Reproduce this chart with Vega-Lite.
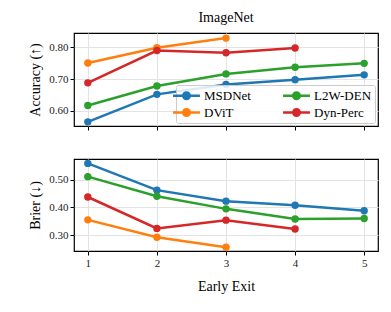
{
  "$schema": "https://vega.github.io/schema/vega-lite/v6.json",
  "padding": {"left": 28, "top": 10, "right": 5, "bottom": 5},
  "datasets": {
    "d": [
      {"exit": 1, "model": "MSDNet", "metric": "acc", "value": 0.566},
      {"exit": 2, "model": "MSDNet", "metric": "acc", "value": 0.652},
      {"exit": 3, "model": "MSDNet", "metric": "acc", "value": 0.683},
      {"exit": 4, "model": "MSDNet", "metric": "acc", "value": 0.698},
      {"exit": 5, "model": "MSDNet", "metric": "acc", "value": 0.713},
      {"exit": 1, "model": "L2W-DEN", "metric": "acc", "value": 0.617},
      {"exit": 2, "model": "L2W-DEN", "metric": "acc", "value": 0.678},
      {"exit": 3, "model": "L2W-DEN", "metric": "acc", "value": 0.716},
      {"exit": 4, "model": "L2W-DEN", "metric": "acc", "value": 0.737},
      {"exit": 5, "model": "L2W-DEN", "metric": "acc", "value": 0.749},
      {"exit": 1, "model": "DViT", "metric": "acc", "value": 0.750},
      {"exit": 2, "model": "DViT", "metric": "acc", "value": 0.798},
      {"exit": 3, "model": "DViT", "metric": "acc", "value": 0.828},
      {"exit": 1, "model": "Dyn-Perc", "metric": "acc", "value": 0.688},
      {"exit": 2, "model": "Dyn-Perc", "metric": "acc", "value": 0.789},
      {"exit": 3, "model": "Dyn-Perc", "metric": "acc", "value": 0.782},
      {"exit": 4, "model": "Dyn-Perc", "metric": "acc", "value": 0.797},
      {"exit": 1, "model": "MSDNet", "metric": "brier", "value": 0.560},
      {"exit": 2, "model": "MSDNet", "metric": "brier", "value": 0.463},
      {"exit": 3, "model": "MSDNet", "metric": "brier", "value": 0.423},
      {"exit": 4, "model": "MSDNet", "metric": "brier", "value": 0.408},
      {"exit": 5, "model": "MSDNet", "metric": "brier", "value": 0.388},
      {"exit": 1, "model": "L2W-DEN", "metric": "brier", "value": 0.512},
      {"exit": 2, "model": "L2W-DEN", "metric": "brier", "value": 0.441},
      {"exit": 3, "model": "L2W-DEN", "metric": "brier", "value": 0.395},
      {"exit": 4, "model": "L2W-DEN", "metric": "brier", "value": 0.358},
      {"exit": 5, "model": "L2W-DEN", "metric": "brier", "value": 0.360},
      {"exit": 1, "model": "DViT", "metric": "brier", "value": 0.355},
      {"exit": 2, "model": "DViT", "metric": "brier", "value": 0.292},
      {"exit": 3, "model": "DViT", "metric": "brier", "value": 0.256},
      {"exit": 1, "model": "Dyn-Perc", "metric": "brier", "value": 0.438},
      {"exit": 2, "model": "Dyn-Perc", "metric": "brier", "value": 0.324},
      {"exit": 3, "model": "Dyn-Perc", "metric": "brier", "value": 0.354},
      {"exit": 4, "model": "Dyn-Perc", "metric": "brier", "value": 0.322}
    ]
  },
  "config": {
    "font": "Liberation Serif",
    "view": {"stroke": "#000000", "strokeWidth": 1.2},
    "axis": {
      "domain": false,
      "tickColor": "#000000",
      "tickSize": 4,
      "labelFontSize": 11,
      "labelColor": "#222222",
      "titleFontSize": 14,
      "titleFontWeight": "normal",
      "titleColor": "#000000",
      "gridColor": "#e3e3e3",
      "gridWidth": 1
    },
    "title": {"fontSize": 14, "fontWeight": "normal"},
    "legend": {"labelFontSize": 13}
  },
  "spacing": 25,
  "resolve": {"legend": {"color": "independent"}},
  "vconcat": [
    {
      "width": 304,
      "height": 93,
      "title": {"text": "ImageNet", "anchor": "middle", "offset": 8},
      "data": {"name": "d"},
      "transform": [{"filter": "datum.metric == 'acc'"}],
      "mark": {"type": "line", "strokeWidth": 2.5, "point": {"size": 55, "filled": true, "opacity": 1}},
      "encoding": {
        "x": {"field": "exit", "type": "quantitative", "scale": {"domain": [0.8, 5.2], "nice": false, "zero": false},
              "axis": {"values": [1, 2, 3, 4, 5], "labels": false, "title": null}},
        "y": {"field": "value", "type": "quantitative", "scale": {"domain": [0.553, 0.844], "nice": false, "zero": false},
              "axis": {"values": [0.6, 0.7, 0.8], "format": ".2f", "title": "Accuracy (↑)", "titlePadding": 6}},
        "color": {"field": "model", "type": "nominal",
                  "scale": {"domain": ["MSDNet", "DViT", "L2W-DEN", "Dyn-Perc"], "range": ["#1f77b4", "#ff7f0e", "#2ca02c", "#d62728"]},
                  "legend": {"orient": "bottom-right", "title": null, "columns": 2, "offset": 3,
                             "fillColor": "rgba(255,255,255,0.85)", "strokeColor": "#cccccc", "cornerRadius": 2, "padding": 3,
                             "columnPadding": 32, "rowPadding": 2,
                             "symbolType": "M-1.9,-0.18 L1.9,-0.18 L1.9,0.18 L-1.9,0.18 Z M-0.64,0 A0.64,0.64 0 1,1 0.64,0 A0.64,0.64 0 1,1 -0.64,0 Z",
                             "symbolSize": 200, "symbolStrokeWidth": 0, "symbolOpacity": 1, "labelOffset": 10}}
      }
    },
    {
      "width": 304,
      "height": 92,
      "data": {"name": "d"},
      "transform": [{"filter": "datum.metric == 'brier'"}],
      "mark": {"type": "line", "strokeWidth": 2.5, "point": {"size": 55, "filled": true, "opacity": 1}},
      "encoding": {
        "x": {"field": "exit", "type": "quantitative", "scale": {"domain": [0.8, 5.2], "nice": false, "zero": false},
              "axis": {"values": [1, 2, 3, 4, 5], "format": "d", "title": "Early Exit", "titlePadding": 11}},
        "y": {"field": "value", "type": "quantitative", "scale": {"domain": [0.242, 0.576], "nice": false, "zero": false},
              "axis": {"values": [0.3, 0.4, 0.5], "format": ".2f", "title": "Brier (↓)", "titlePadding": 6}},
        "color": {"field": "model", "type": "nominal",
                  "scale": {"domain": ["MSDNet", "DViT", "L2W-DEN", "Dyn-Perc"], "range": ["#1f77b4", "#ff7f0e", "#2ca02c", "#d62728"]},
                  "legend": null}
      }
    }
  ]
}
